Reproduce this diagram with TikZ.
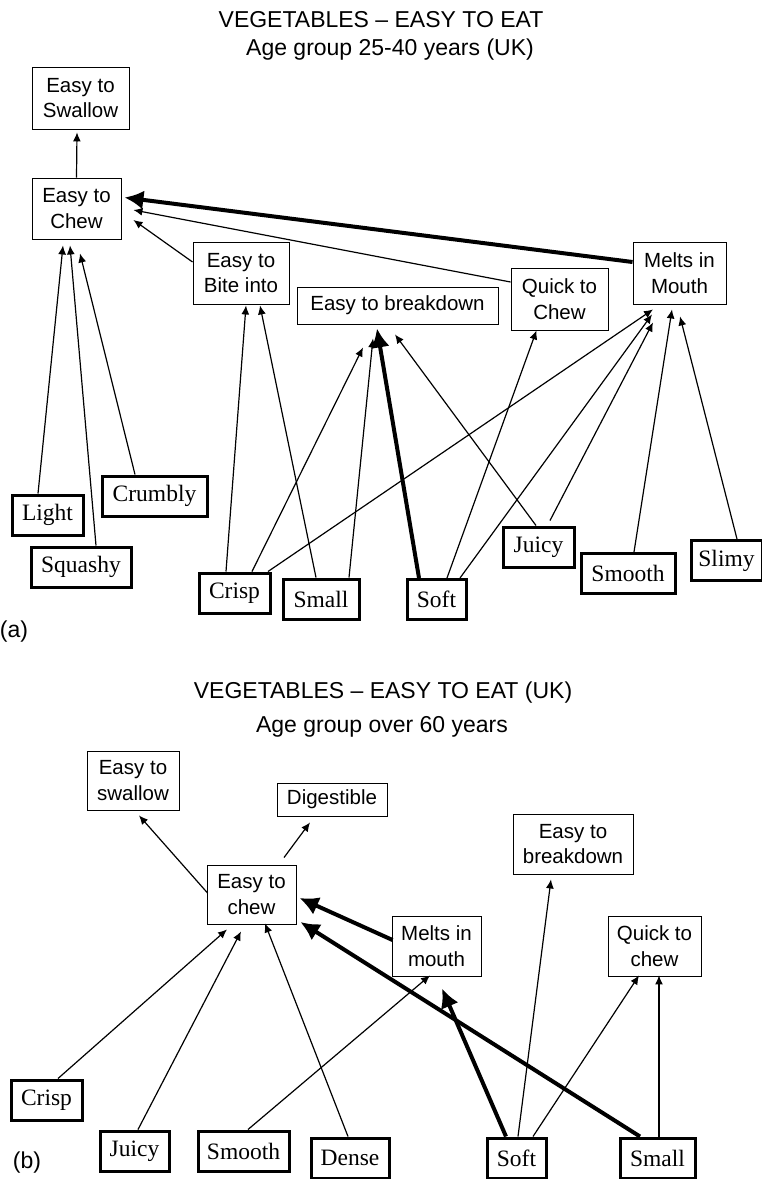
\documentclass[tikz,border=0pt]{standalone}
\usepackage{fontspec}
\usepackage{tikz}
\setmainfont{Liberation Sans}
\newfontfamily\serf{Liberation Serif}
\usetikzlibrary{arrows.meta,positioning,calc}
\tikzset{
  cue/.style={draw,line width=0.9pt,align=center,inner sep=0pt,font=\fontsize{20.5}{25.5}\selectfont},
  attr/.style={draw,line width=3pt,inner sep=0pt,font=\serf\fontsize{23.5}{28}\selectfont},
  heading/.style={font=\fontsize{23}{28}\selectfont},
  link/.style={-{Latex[length=9pt,width=8pt]},line width=1.2pt},
  heavy/.style={-{Latex[length=19pt,width=19pt]},line width=4pt}
}

\begin{document}
\begin{tikzpicture}[x=1pt,y=-1pt]
  \useasboundingbox (0,0) rectangle (762,1179);
  % (a) 25-40 years
  \node[heading] (ta1) at (381,20) {VEGETABLES – EASY TO EAT};
  \node[heading] (ta2) at (390,50) {Age group 25-40 years (UK)};
  \node[cue,minimum width=97,minimum height=62] (ets) at (80.5,98) {Easy to\\Swallow};
  \node[cue,minimum width=89,minimum height=61] (etc) at (76.5,208.5) {Easy to\\Chew};
  \node[cue,minimum width=96,minimum height=62] (bite) at (241,273) {Easy to\\Bite into};
  \node[cue,minimum width=201,minimum height=37] (brk) at (397.5,305.5) {Easy to breakdown};
  \node[cue,minimum width=97,minimum height=62] (qtc) at (559.5,299) {Quick to\\Chew};
  \node[cue,minimum width=93,minimum height=62] (mim) at (679.5,273) {Melts in\\Mouth};
  \foreach \n/\x/\y/\w/\t in {light/47.5/515/71/Light,squashy/81/567/100/Squashy,
      crumbly/154.5/496/105/Crumbly,crisp/234.5/593/71/Crisp,small/321/599/76/Small,
      soft/436.5/599.5/59/Soft,juicy/538.5/547/71/Juicy,smooth/628/573.5/94/Smooth,
      slimy/726.5/560.5/71/Slimy}{
    \node[attr,minimum width=\w,minimum height=40] (\n) at (\x,\y) {\t};
  }
  \node[font=\fontsize{23}{28}\selectfont] (la) at (14,632) {(a)};

  % (b) over 60 years
  \node[heading] (tb1) at (383,693) {VEGETABLES – EASY TO EAT (UK)};
  \node[heading] (tb2) at (382,727) {Age group over 60 years};
  \node[cue,minimum width=92,minimum height=59] (ets2) at (133,780.5) {Easy to\\swallow};
  \node[cue,minimum width=110,minimum height=33] (dig) at (332,799.5) {Digestible};
  \node[cue,minimum width=89,minimum height=59] (etc2) at (251.5,894.5) {Easy to\\chew};
  \node[cue,minimum width=120,minimum height=60] (brk2) at (573,844) {Easy to\\breakdown};
  \node[cue,minimum width=89,minimum height=60] (mim2) at (436.5,946) {Melts in\\mouth};
  \node[cue,minimum width=93,minimum height=60] (qtc2) at (654.5,946) {Quick to\\chew};
  \foreach \n/\x/\y/\w/\t in {crisp2/46.5/1100/71/Crisp,juicy2/134.5/1151/69/Juicy,
      smooth2/243.5/1151/91/Smooth,dense2/350/1158/78/Dense,soft2/516.5/1158/59/Soft,
      small2/657.5/1158/75/Small}{
    \node[attr,minimum width=\w,minimum height=40] (\n) at (\x,\y) {\t};
  }
  \node[font=\fontsize{23}{28}\selectfont] (lb) at (27,1163) {(b)};

  % thin links
  \foreach \s/\sa/\sx/\sy/\t/\ta/\tx/\ty in {
      etc/north/0/0/ets/south/-3.5/3, qtc/west/0/-17/etc/east/12/1.5,
      bite/west/0/-11/etc/east/12/11.5, light/north/-9.5/0/etc/south/-13.5/6,
      squashy/north/15/0/etc/south/-6.5/6, crumbly/north/-19.5/0/etc/south/3.5/14,
      crisp/north/-8.5/0/bite/south/5/1, small/north/-5/0/bite/south/19/1,
      crisp/north/17.5/0/brk/south/-34.5/23, crisp/north/33.5/0/mim/south/-26.5/5,
      small/north/28/0/brk/south/-24.5/14, juicy/north/-2.5/0/brk/south/-2.5/10,
      soft/north/10.5/0/qtc/south/-23/0, soft/north/23.5/0/mim/south/-27.5/10,
      juicy/north/11.5/-5/mim/south/-26.5/18, smooth/north/6/0/mim/south/-7.5/5,
      slimy/north/10.5/0/mim/south/0.5/12,
      etc2/west/1/-1.5/ets2/south/6/5, etc2/north/32.5/-7/dig/south/-22/6,
      crisp2/north/11.5/0/etc2/south/-24.5/5, juicy2/north/3.5/0/etc2/south/-10.5/7,
      dense2/north/-2/0/etc2/south/13.5/-1, smooth2/north/4.5/0/mim2/south/-6.5/-1,
      soft2/north/1.5/0/brk2/south/-22/5, soft2/north/16.5/0/qtc2/south/-15.5/-1,
      small2/north/1.5/0/qtc2/south/4.5/-1}{
    \draw[link] ($(\s.\sa)+(\sx,\sy)$) -- ($(\t.\ta)+(\tx,\ty)$);
  }
  % strong links
  \foreach \s/\sa/\sx/\sy/\t/\ta/\tx/\ty in {
      mim/west/0/-11/etc/east/3/-11, soft/north/-17.5/0/brk/south/-20.5/4,
      mim2/west/1/-6/etc2/east/3/3.5, small2/north/-17.5/0/etc2/east/4/27.5,
      soft2/north/-10.5/0/mim2/south/5.5/12}{
    \draw[heavy] ($(\s.\sa)+(\sx,\sy)$) -- ($(\t.\ta)+(\tx,\ty)$);
  }
\end{tikzpicture}
\end{document}
